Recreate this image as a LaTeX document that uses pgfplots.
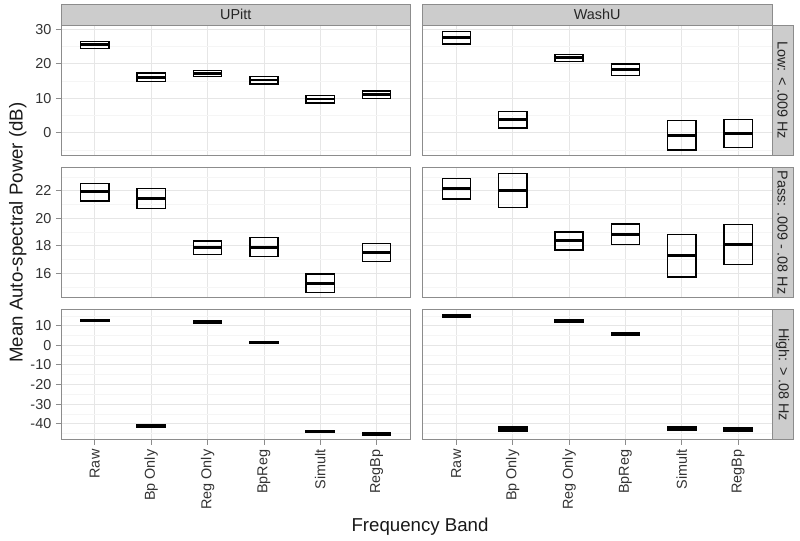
\documentclass[border=0pt]{standalone}
\usepackage{pgfplots}
\pgfplotsset{compat=1.18}
\usepgfplotslibrary{statistics}
\usetikzlibrary{calc}
\usepackage{fontspec}
\setmainfont{Liberation Sans}
\definecolor{stripfill}{HTML}{CCCCCC}
\definecolor{border}{HTML}{8C8C8C}
\definecolor{gmajor}{HTML}{E6E6E6}
\definecolor{gminor}{HTML}{F5F5F5}

\newcommand\tickfont{\fontsize{10.8}{12}\selectfont}
\newcommand\titlefont{\fontsize{14}{16}\selectfont}

\pgfplotsset{
  panel/.style={
    scale only axis, width=262.1pt, height=97.9pt,
    anchor=north west,
    xmin=0.4, xmax=6.6, xtick={1,...,6},
    grid=both,
    major grid style={gmajor, line width=0.6pt},
    minor grid style={gminor, line width=0.5pt},
    axis line style={border, line width=0.6pt},
    tick align=outside, major tick length=3.75pt, minor tick length=0pt,
    tick style={border, line width=0.6pt},
    xtick pos=bottom, ytick pos=left,
    /pgf/number format/assume math mode=true,
    tick label style={font=\tickfont, text=black!80},
    xticklabel style={rotate=90, anchor=east},
    xticklabels={},
    boxplot/draw direction=y,
  },
  notop/.style={xtick style={draw=none}},
  bottomrow/.style={xticklabels={Raw,Bp Only,Reg Only,BpReg,Simult,RegBp}},
  rightcol/.style={yticklabels={}, ytick style={draw=none}},
  lowrow/.style={ymin=-6.6, ymax=31.25, ytick={0,10,20,30}, minor ytick={-5,5,15,25}},
  passrow/.style={ymin=14.2, ymax=23.71, ytick={16,18,20,22}, minor ytick={15,17,19,21,23}},
  highrow/.style={ymin=-48.3, ymax=18.37, ytick={-40,-30,...,10}, minor ytick={-45,-35,...,15}},
}

% \cb{position}{lower edge}{middle}{upper edge}
\newcommand\cb[4]{%
  \addplot[black, line width=1.05pt,
    boxplot prepared={draw position=#1, draw direction=y,
      lower whisker=#2, lower quartile=#2, median=#3,
      upper quartile=#4, upper whisker=#4,
      box extend=0.5, whisker extend=0,
      every whisker/.style={draw=none},
      every median/.style={line width=2.2pt}}]
    coordinates {};%
}

\newcommand\topstrip[2]{%
  \draw[fill=stripfill, draw=border, line width=0.6pt] (#1.north west) rectangle ([yshift=15.5pt]#1.north east);
  \node[font=\tickfont, text=black!85] at ($(#1.north west)!0.5!([yshift=15.5pt]#1.north east)$) {#2};
}
\newcommand\rightstrip[2]{%
  \draw[fill=stripfill, draw=border, line width=0.6pt] (#1.south east) rectangle ([xshift=15.75pt]#1.north east);
  \node[font=\tickfont, text=black!85, rotate=-90] at ($(#1.south east)!0.5!([xshift=15.75pt]#1.north east)$) {#2};
}

\begin{document}
\begin{tikzpicture}
\useasboundingbox (0pt,0pt) rectangle (600pt,-405pt);

% Low, UPitt
\begin{axis}[panel, lowrow, notop, name=u1, at={(45.75pt,-18.75pt)}]
\cb{1}{24.4}{25.5}{26.5}
\cb{2}{14.9}{16.1}{17.3}
\cb{3}{16.4}{17.2}{18.0}
\cb{4}{14.2}{15.3}{16.3}
\cb{5}{8.6}{9.8}{10.8}
\cb{6}{10.0}{11.0}{12.1}
\end{axis}
% Low, WashU
\begin{axis}[panel, lowrow, notop, rightcol, name=w1, at={(316.9pt,-18.75pt)}]
\cb{1}{25.8}{27.7}{29.4}
\cb{2}{1.4}{3.9}{6.2}
\cb{3}{20.7}{21.7}{22.7}
\cb{4}{16.6}{18.4}{20.0}
\cb{5}{-5.0}{-0.75}{3.5}
\cb{6}{-4.2}{-0.2}{3.8}
\end{axis}

% Pass, UPitt
\begin{axis}[panel, passrow, notop, name=u2, at={(45.75pt,-125.5pt)}]
\cb{1}{21.25}{21.93}{22.55}
\cb{2}{20.7}{21.45}{22.15}
\cb{3}{17.35}{17.87}{18.35}
\cb{4}{17.2}{17.89}{18.6}
\cb{5}{14.6}{15.28}{15.95}
\cb{6}{16.85}{17.53}{18.15}
\end{axis}
% Pass, WashU
\begin{axis}[panel, passrow, notop, rightcol, name=w2, at={(316.9pt,-125.5pt)}]
\cb{1}{21.4}{22.15}{22.9}
\cb{2}{20.8}{22.03}{23.25}
\cb{3}{17.7}{18.35}{19.0}
\cb{4}{18.08}{18.84}{19.58}
\cb{5}{15.73}{17.28}{18.82}
\cb{6}{16.65}{18.09}{19.53}
\end{axis}

% High, UPitt
\begin{axis}[panel, highrow, bottomrow, name=u3, at={(45.75pt,-232pt)}]
\cb{1}{12.3}{12.8}{13.3}
\cb{2}{-41.7}{-41.2}{-40.7}
\cb{3}{11.4}{11.9}{12.4}
\cb{4}{1.0}{1.5}{2.0}
\cb{5}{-44.6}{-44.1}{-43.6}
\cb{6}{-45.8}{-45.3}{-44.8}
\end{axis}
% High, WashU
\begin{axis}[panel, highrow, bottomrow, rightcol, name=w3, at={(316.9pt,-232pt)}]
\cb{1}{14.4}{14.9}{15.4}
\cb{2}{-43.8}{-42.6}{-41.4}
\cb{3}{11.9}{12.4}{12.9}
\cb{4}{5.3}{5.8}{6.3}
\cb{5}{-43.4}{-42.4}{-41.4}
\cb{6}{-43.9}{-42.9}{-41.9}
\end{axis}

\topstrip{u1}{UPitt}
\topstrip{w1}{WashU}
\rightstrip{w1}{Low: < .009 Hz}
\rightstrip{w2}{Pass: .009 - .08 Hz}
\rightstrip{w3}{High: > .08 Hz}

\node[rotate=90, anchor=base, font=\titlefont, text=black!90] at (17pt,-174.4pt) {Mean Auto-spectral Power (dB)};
\node[anchor=base, font=\titlefont, text=black!90] at (315pt,-398.8pt) {Frequency Band};
\end{tikzpicture}
\end{document}
